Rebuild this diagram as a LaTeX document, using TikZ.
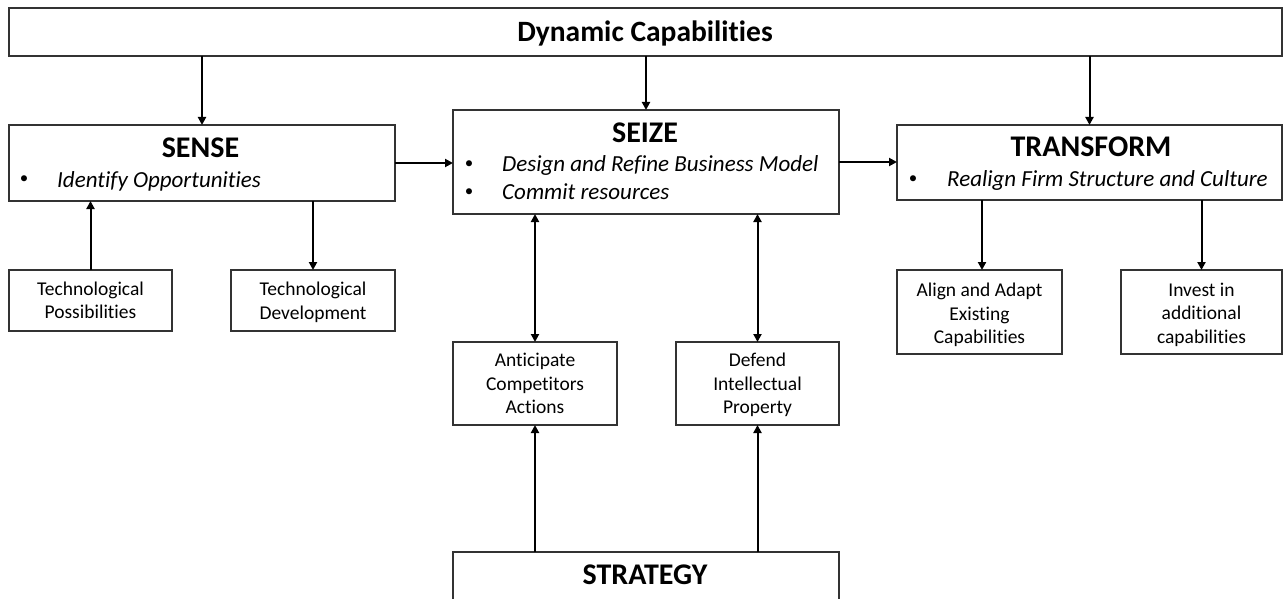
\documentclass[tikz,border=0pt]{standalone}
\usepackage{fontspec}
\setmainfont{Carlito}[Ligatures=NoCommon]
\usetikzlibrary{arrows.meta}
\begin{document}
\begin{tikzpicture}[x=1pt,y=-1pt,
  box/.style={draw=black!80, line width=1.2pt, inner sep=0pt, outer sep=0pt},
  small/.style={font=\fontsize{19.5}{23.5}\selectfont, align=center, inner sep=0pt},
  title/.style={font=\fontsize{30}{36}\selectfont\bfseries, anchor=base, inner sep=0pt},
  item/.style={font=\fontsize{23}{28}\selectfont\itshape, anchor=base west, inner sep=0pt},
  bul/.style={font=\fontsize{17}{20}\selectfont, anchor=center, inner sep=0pt},
  arr/.style={line width=2pt, -{Triangle[length=8pt,width=8pt]}},
  darr/.style={line width=2pt, {Triangle[length=8pt,width=8pt]}-{Triangle[length=8pt,width=8pt]}}]
\useasboundingbox (0,0) rectangle (1283,599);
\fill[white] (0,0) rectangle (1283,599);
% boxes
\node[box, minimum width=1273pt, minimum height=48pt] (top) at (645.5,32) {};
\node[box, minimum width=386pt, minimum height=76pt] (sense) at (202,163) {};
\node[box, minimum width=386pt, minimum height=104pt] (seize) at (646,162) {};
\node[box, minimum width=385pt, minimum height=75pt] (transform) at (1089.5,162.5) {};
\node[box, minimum width=163pt, minimum height=61pt] (techposs) at (90.5,300.5) {};
\node[box, minimum width=164pt, minimum height=61pt] (techdev) at (313,300.5) {};
\node[box, minimum width=164pt, minimum height=83pt] (anticip) at (535,383.5) {};
\node[box, minimum width=163pt, minimum height=83pt] (defend) at (757.5,383.5) {};
\node[box, minimum width=165pt, minimum height=84pt] (align) at (979.5,312) {};
\node[box, minimum width=161pt, minimum height=84pt] (invest) at (1201.5,312) {};
\node[box, minimum width=386pt, minimum height=88pt] (strategy) at (646,596) {};
% texts
\node[font=\fontsize{29.5}{35}\selectfont\bfseries, anchor=base, inner sep=0pt] (dctext) at (645,41.5) {Dynamic Capabilities};
\node[title] (sensetitle) at (200.5,158) {SENSE};
\node[bul] (b1) at (24,180) {•};
\node[item] (i1) at (57,187.5) {Identify Opportunities};
\node[title] (seizetitle) at (645,142.7) {SEIZE};
\node[bul] (b2) at (469,165) {•};
\node[item] (i2) at (502,171.7) {Design and Refine Business Model};
\node[bul] (b3) at (469,193) {•};
\node[item] (i3) at (502,200) {Commit resources};
\node[title] (trtitle) at (1091,156.7) {TRANSFORM};
\node[bul] (b4) at (913,180) {•};
\node[item] (i4) at (947,186.7) {Realign Firm Structure and Culture};
\node[title] (sttitle) at (645,584) {STRATEGY};
\node[small] at (techposs) {Technological\\Possibilities};
\node[small] at ([yshift=-2pt]techdev.center) {Technological\\Development};
\node[small] at (anticip) {Anticipate\\Competitors\\Actions};
\node[small] at ([yshift=-1.5pt]defend.center) {Defend\\Intellectual\\Property};
\node[small] at ([yshift=-3pt]align.center) {Align and Adapt\\Existing\\Capabilities};
\node[small] at ([yshift=-2.5pt]invest.center) {Invest in\\additional\\capabilities};
% connectors
\draw[arr] (top.south -| sense.north) -- (sense.north);
\draw[arr] (top.south -| seize.north) -- (seize.north);
\draw[arr] (top.south -| transform.north) -- (transform.north);
\draw[arr] (sense.east) -- (sense.east -| seize.west);
\draw[arr] (seize.east) -- (seize.east -| transform.west);
\draw[arr] (techposs.north) -- (techposs.north |- sense.south);
\draw[arr] (techdev.north |- sense.south) -- (techdev.north);
\draw[darr] (anticip.north |- seize.south) -- (anticip.north);
\draw[darr] (defend.north |- seize.south) -- (defend.north);
\draw[arr] (strategy.north -| anticip.south) -- (anticip.south);
\draw[arr] (strategy.north -| defend.south) -- (defend.south);
\draw[arr] ([xshift=2.5pt]align.north |- transform.south) -- ([xshift=2.5pt]align.north);
\draw[arr] (invest.north |- transform.south) -- (invest.north);
\end{tikzpicture}
\end{document}
